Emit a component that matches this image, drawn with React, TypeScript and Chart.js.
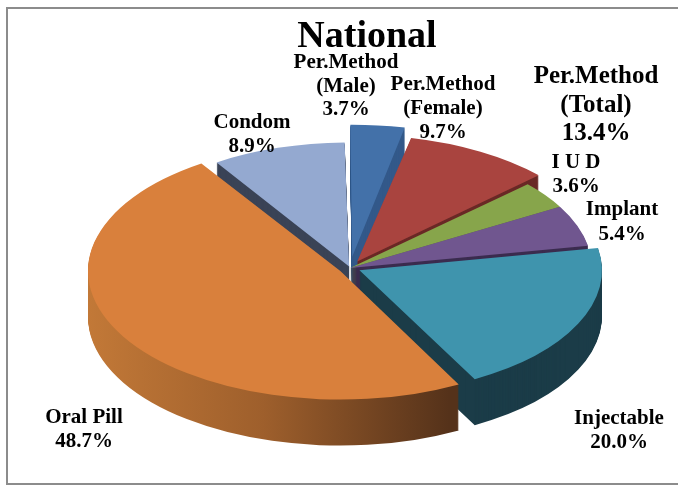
import React, { useEffect, useRef } from 'react';
import { Chart, registerables } from 'chart.js';

Chart.register(...registerables);

// ---------- data ----------
const CATEGORY_LINES: string[][] = [
  ['Per.Method', '(Male)'],
  ['Per.Method', '(Female)'],
  ['I U D'],
  ['Implant'],
  ['Injectable'],
  ['Oral Pill'],
  ['Condom'],
];
const VALUES: number[] = [3.7, 9.7, 3.6, 5.4, 20.0, 48.7, 8.9];
const TOTAL_LINES: string[] = ['Per.Method', '(Total)'];
const TOTAL_OF: number[] = [0, 1]; // Per.Method (Male) + Per.Method (Female)
const TITLE = 'National';

// ---------- styles ----------
const TOP_COLORS = ['#4371A9', '#A9443F', '#87A54B', '#70568F', '#3F94AD', '#D9803C', '#94A9D0'];
const SIDE_COLORS = ['#33598A', '#6A2926', '#5A7032', '#3B2C4F', '#1B3C48', '#8A5227', '#3A4356'];
const EXPLODE = [88, 58, 0, 0, 42, 45, 12];
const TILT = 0.51;
const DEPTH = 46;
const ORAL_INDEX = 5;
const FONT = '"Liberation Serif", "Times New Roman", serif';

// label anchors: centre x, first baseline y, line height, font size
const LABEL_POS = [
  { x: 346, y: 68, lh: 23.5, size: 21 },
  { x: 443, y: 90, lh: 24, size: 21 },
  { x: 576, y: 168, lh: 24, size: 21 },
  { x: 622, y: 215, lh: 25, size: 21 },
  { x: 619, y: 424, lh: 24, size: 21 },
  { x: 84, y: 423, lh: 24, size: 21 },
  { x: 252, y: 128, lh: 24, size: 21 },
];
const TOTAL_POS = { x: 596, y: 83, lh: 28.5, size: 25 };

const midAngle = (a: any) => (a.startAngle + a.endAngle) / 2;

const pie3d = {
  id: 'pie3d',
  beforeDatasetsDraw(chart: any) {
    const ctx: CanvasRenderingContext2D = chart.ctx;
    const arcs = chart.getDatasetMeta(0).data;
    if (!arcs.length) return;
    const cx = arcs[0].x;
    const cy = arcs[0].y;
    const order = arcs
      .map((_: any, i: number) => i)
      .sort((a: number, b: number) => Math.sin(midAngle(arcs[a])) - Math.sin(midAngle(arcs[b])));
    for (const i of order) {
      const arc = arcs[i];
      let fill: any = SIDE_COLORS[i];
      if (i === ORAL_INDEX) {
        const g = ctx.createLinearGradient(cx - arc.outerRadius - 20, 0, cx + arc.outerRadius * 0.45, 0);
        g.addColorStop(0, '#C47A38');
        g.addColorStop(0.5, '#9E5F2C');
        g.addColorStop(1, '#55321A');
        fill = g;
      }
      const ghost = Object.create(arc);
      ghost.options = Object.assign({}, arc.options, { backgroundColor: fill, borderWidth: 0 });
      for (let dy = DEPTH; dy >= 1; dy--) {
        ctx.save();
        ctx.translate(cx, cy + dy);
        ctx.scale(1, TILT);
        ctx.translate(-cx, -cy);
        ghost.draw(ctx);
        ctx.restore();
      }
    }
    ctx.save();
    ctx.translate(cx, cy);
    ctx.scale(1, TILT);
    ctx.translate(-cx, -cy);
  },
  afterDatasetsDraw(chart: any) {
    chart.ctx.restore();
  },
  afterDraw(chart: any) {
    const ctx: CanvasRenderingContext2D = chart.ctx;
    ctx.save();
    // frame
    ctx.strokeStyle = '#8C8C8C';
    ctx.lineWidth = 2;
    ctx.strokeRect(7, 8, 700, 476);
    // title
    ctx.fillStyle = '#000';
    ctx.textAlign = 'center';
    ctx.textBaseline = 'alphabetic';
    ctx.font = `bold 38px ${FONT}`;
    ctx.fillText(TITLE, 367, 47);
    // slice labels
    const drawLabel = (lines: string[], p: any) => {
      ctx.font = `bold ${p.size}px ${FONT}`;
      lines.forEach((t, k) => ctx.fillText(t, p.x, p.y + k * p.lh));
    };
    CATEGORY_LINES.forEach((lines, i) => {
      drawLabel([...lines, VALUES[i].toFixed(1) + '%'], LABEL_POS[i]);
    });
    const total = TOTAL_OF.reduce((s, i) => s + VALUES[i], 0);
    drawLabel([...TOTAL_LINES, total.toFixed(1) + '%'], TOTAL_POS);
    ctx.restore();
  },
};

export default function App() {
  const ref = useRef<HTMLCanvasElement>(null);
  useEffect(() => {
    if (!ref.current) return;
    const chart = new Chart(ref.current, {
      type: 'pie',
      data: {
        labels: CATEGORY_LINES.map((l) => l.join(' ')),
        datasets: [
          {
            data: VALUES,
            backgroundColor: TOP_COLORS,
            borderWidth: 0,
            offset: EXPLODE,
          } as any,
        ],
      },
      options: {
        responsive: false,
        animation: false,
        events: [],
        radius: 242,
        rotation: -1,
        layout: { padding: { left: 22, right: 0, top: 47, bottom: 0 } },
        plugins: {
          legend: { display: false },
          tooltip: { enabled: false },
          title: { display: false },
        },
      } as any,
      plugins: [pie3d],
    });
    return () => chart.destroy();
  }, []);
  return (
    <div style={{ position: 'absolute', left: 0, top: 0, width: 678, height: 489, background: '#fff' }}>
      <canvas ref={ref} width={678} height={489} />
    </div>
  );
}
